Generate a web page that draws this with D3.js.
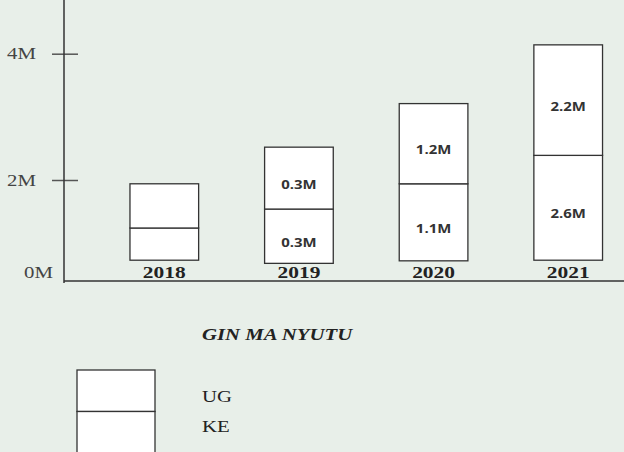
<!DOCTYPE html>
<html>
<head>
<meta charset="utf-8">
<script src="https://cdn.jsdelivr.net/npm/d3@7"></script>
<style>
  html, body { margin: 0; padding: 0; background: #e8efe9; }
  svg { display: block; }
</style>
</head>
<body>
<div id="chart"></div>
<script>
'use strict';

// years on the x axis
var years = ["2018", "2019", "2020", "2021"];

// segment sizes as drawn (in millions, on the axis scale)
var baseValues = [0.73, 0.68, 0.72, 0.73];   // bars float above the axis
var keValues = [0.51, 0.86, 1.22, 1.66];
var ugValues = [0.70, 0.98, 1.27, 1.75];

// the labels printed inside the segments
var keLabels = [null, "0.3M", "1.1M", "2.6M"];
var ugLabels = [null, "0.3M", "1.2M", "2.2M"];

var yTicks = [2, 4];
var seriesNames = ["UG", "KE"];
var chartTitle = "GIN MA NYUTU";

var width = 624,
    height = 452,
    axisX = 64,
    axisY = 281,
    stretch = 1.3; // the original text is drawn wide

var svg = d3.select("#chart").append("svg")
    .attr("width", width)
    .attr("height", height);

var x = d3.scaleBand()
    .domain(years)
    .range([axisX, 668.5])
    .paddingInner(0.49)
    .paddingOuter(0.49);

var y = d3.scaleLinear()
    .domain([0, 4])
    .range([306.3, 53.7]);

// places a text at (px, py) and widens it
function wideText(sel, px, py) {
    return sel.attr("transform", "translate(" + px + "," + py + ") scale(" + stretch + ",1)");
}

/*
  Axes
*/
var yAxis = d3.axisLeft(y)
    .tickValues(yTicks)
    .tickSize(12)
    .tickFormat("");

var gy = svg.append("g")
    .attr("transform", "translate(" + axisX + ",0)")
    .call(yAxis);

gy.select(".domain").remove();
gy.selectAll(".tick line")
    .attr("x1", 14)
    .attr("stroke", "#555")
    .attr("stroke-width", 1.5);

svg.append("line")
    .attr("x1", axisX).attr("x2", axisX)
    .attr("y1", 0).attr("y2", axisY + 2)
    .attr("stroke", "#333")
    .attr("stroke-width", 1.5);

svg.append("line")
    .attr("x1", axisX).attr("x2", width)
    .attr("y1", axisY).attr("y2", axisY)
    .attr("stroke", "#333")
    .attr("stroke-width", 1.3);

svg.selectAll(".ytick-label")
    .data(yTicks)
    .enter().append("text")
    .attr("class", "ytick-label")
    .attr("text-anchor", "end")
    .attr("font-family", "'Liberation Serif', 'Times New Roman', serif")
    .attr("font-size", 16)
    .attr("fill", "#444")
    .text(function (d) { return d + "M"; })
    .each(function (d) { wideText(d3.select(this), 36, y(d) + 5.5); });

wideText(svg.append("text")
    .attr("text-anchor", "end")
    .attr("font-family", "'Liberation Serif', 'Times New Roman', serif")
    .attr("font-size", 16)
    .attr("fill", "#444")
    .text("0M"), 53, axisY - 3.5);

/*
  Bars
*/
var bars = svg.selectAll(".bar")
    .data(years)
    .enter().append("g")
    .attr("class", "bar");

// KE segment (bottom)
bars.append("rect")
    .attr("x", function (d) { return x(d); })
    .attr("width", x.bandwidth())
    .attr("y", function (d, i) { return y(baseValues[i] + keValues[i]); })
    .attr("height", function (d, i) { return y(baseValues[i]) - y(baseValues[i] + keValues[i]); })
    .attr("fill", "#fff")
    .attr("stroke", "#333")
    .attr("stroke-width", 1.3);

// UG segment (top)
bars.append("rect")
    .attr("x", function (d) { return x(d); })
    .attr("width", x.bandwidth())
    .attr("y", function (d, i) { return y(baseValues[i] + keValues[i] + ugValues[i]); })
    .attr("height", function (d, i) { return y(baseValues[i] + keValues[i]) - y(baseValues[i] + keValues[i] + ugValues[i]); })
    .attr("fill", "#fff")
    .attr("stroke", "#333")
    .attr("stroke-width", 1.3);

function segmentLabel(labels, lo, hi) {
    bars.filter(function (d, i) { return labels[i]; })
        .append("text")
        .attr("text-anchor", "middle")
        .attr("font-family", "'Open Sans', sans-serif")
        .attr("font-weight", 700)
        .attr("font-size", 11.5)
        .attr("fill", "#333")
        .text(function (d) { return labels[years.indexOf(d)]; })
        .each(function (d) {
            var i = years.indexOf(d);
            var mid = (y(lo(i)) + y(hi(i))) / 2;
            wideText(d3.select(this), x(d) + x.bandwidth() / 2, mid + 10.5);
        });
}

segmentLabel(keLabels,
    function (i) { return baseValues[i]; },
    function (i) { return baseValues[i] + keValues[i]; });
segmentLabel(ugLabels,
    function (i) { return baseValues[i] + keValues[i]; },
    function (i) { return baseValues[i] + keValues[i] + ugValues[i]; });

svg.selectAll(".year-label")
    .data(years)
    .enter().append("text")
    .attr("class", "year-label")
    .attr("text-anchor", "middle")
    .attr("font-family", "'Liberation Serif', 'Times New Roman', serif")
    .attr("font-weight", 700)
    .attr("font-size", 16.5)
    .attr("fill", "#222")
    .text(function (d) { return d; })
    .each(function (d) { wideText(d3.select(this), x(d) + x.bandwidth() / 2, axisY - 3); });

/*
  Title and legend
*/
wideText(svg.append("text")
    .attr("font-family", "'Liberation Serif', 'Times New Roman', serif")
    .attr("font-weight", 700)
    .attr("font-style", "italic")
    .attr("font-size", 16)
    .attr("fill", "#222")
    .text(chartTitle), 202, 339.5);

var legend = svg.append("g").attr("class", "legend");

legend.selectAll("rect")
    .data(seriesNames)
    .enter().append("rect")
    .attr("x", 77)
    .attr("y", function (d, i) { return 370 + i * 41.5; })
    .attr("width", 78)
    .attr("height", 41.5)
    .attr("fill", "#fff")
    .attr("stroke", "#333")
    .attr("stroke-width", 1.3);

legend.selectAll("text")
    .data(seriesNames)
    .enter().append("text")
    .attr("font-family", "'Liberation Serif', 'Times New Roman', serif")
    .attr("font-size", 16)
    .attr("fill", "#222")
    .text(function (d) { return d; })
    .each(function (d, i) { wideText(d3.select(this), 202, 401.7 + i * 30); });
</script>
</body>
</html>
